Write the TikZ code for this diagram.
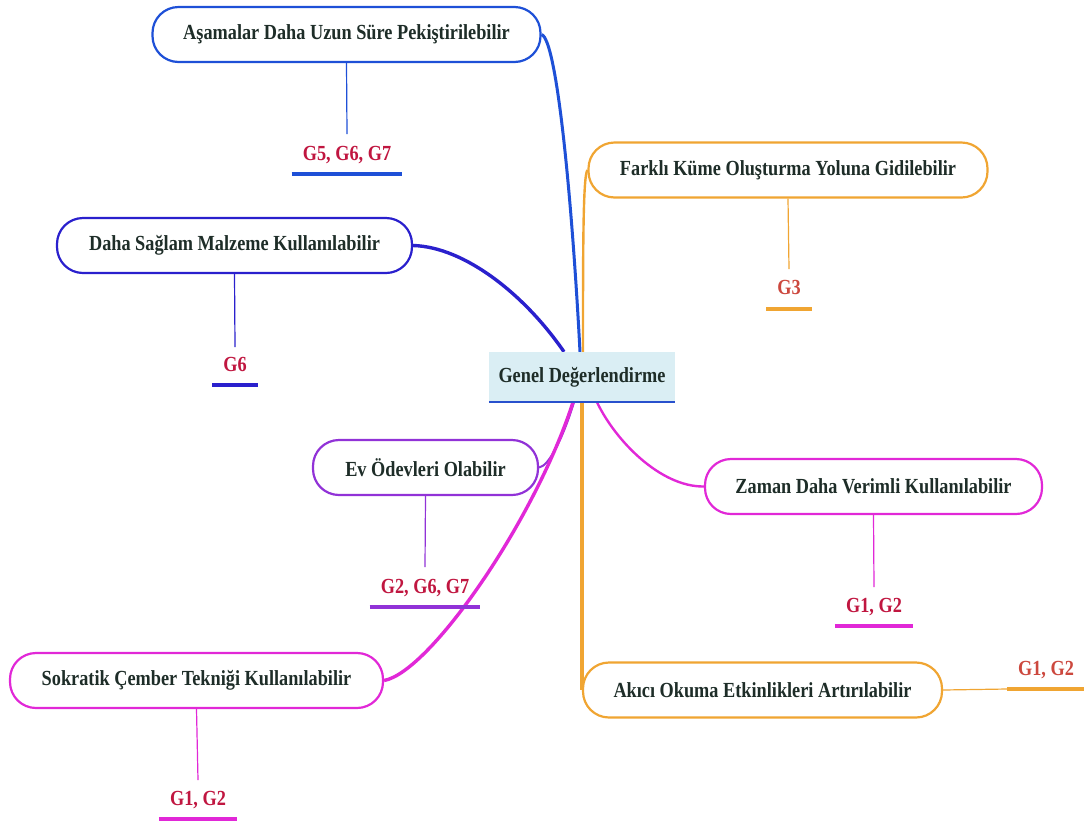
\documentclass[tikz,border=0pt]{standalone}
\usepackage{fontspec}
\setmainfont{Liberation Serif}[FakeStretch=0.85]
\usetikzlibrary{backgrounds}

\definecolor{clblue}{RGB}{30,80,215}
\definecolor{clindigo}{RGB}{42,32,205}
\definecolor{clorange}{RGB}{240,165,50}
\definecolor{clpurple}{RGB}{145,50,215}
\definecolor{clmagenta}{RGB}{225,40,215}
\definecolor{textdark}{RGB}{30,45,40}
\definecolor{tagred}{RGB}{192,22,64}
\definecolor{tagorange}{RGB}{204,72,62}
\definecolor{gdfill}{RGB}{218,238,244}
\definecolor{gdline}{RGB}{40,80,205}

\tikzset{
  mapfont/.style={font=\fontsize{21.5}{24}\selectfont\bfseries},
  idea/.style={draw=#1, line width=2.2pt, fill=white, rounded corners=26pt,
    minimum height=55pt, inner xsep=0pt, text=textdark, mapfont},
  centre/.style={fill=gdfill, minimum width=186pt, minimum height=50pt,
    text=textdark, mapfont},
  tag/.style={anchor=base, inner xsep=11pt, inner ysep=0pt, text=tagred, mapfont},
  stem/.style={draw=#1, line width=1.2pt},
  uline/.style={draw=#1, line width=3.2pt},
  branch/.style={draw=#1, line width=3pt}
}

\begin{document}
\begin{tikzpicture}[x=1pt,y=-1pt]
  \useasboundingbox (0,0) rectangle (1084,823);

  % centre
  \node[centre] (gd) at (582,377) {Genel Değerlendirme};
  \draw[gdline, line width=2.5pt] (gd.south west) -- (gd.south east);

  % ideas
  \node[idea=clblue, minimum width=388pt] (asama) at (346.5,34.5) {Aşamalar Daha Uzun Süre Pekiştirilebilir};
  \node[idea=clorange, minimum width=399pt] (farkli) at (788,170) {Farklı Küme Oluşturma Yoluna Gidilebilir};
  \node[idea=clindigo, minimum width=355pt] (saglam) at (234.5,245.5) {Daha Sağlam Malzeme Kullanılabilir};
  \node[idea=clpurple, minimum width=225pt] (odev) at (425.5,467.5) {Ev Ödevleri Olabilir};
  \node[idea=clmagenta, minimum width=337pt] (zaman) at (873.5,486.5) {Zaman Daha Verimli Kullanılabilir};
  \node[idea=clmagenta, minimum width=373pt] (sokrat) at (196.5,680.5) {Sokratik Çember Tekniği Kullanılabilir};
  \node[idea=clorange, minimum width=359pt] (akici) at (762.5,690) {Akıcı Okuma Etkinlikleri Artırılabilir};

  % tags
  \node[tag] (tasama) at (347,160) {G5, G6, G7};
  \node[tag, text=tagorange] (tfarkli) at (789,294) {G3};
  \node[tag] (tsaglam) at (235,371) {G6};
  \node[tag] (todev) at (425,593) {G2, G6, G7};
  \node[tag] (tzaman) at (874,612) {G1, G2};
  \node[tag] (tsokrat) at (198,805) {G1, G2};
  \node[tag, text=tagorange] (takici) at (1046,675) {G1, G2};

  % stems and underlines
  \draw[stem=clblue] (asama.south) -- ([yshift=26pt]tasama.base);
  \draw[uline=clblue] ([yshift=-14pt]tasama.base west) -- ([yshift=-14pt]tasama.base east);
  \draw[stem=clorange] (farkli.south) -- ([yshift=25pt]tfarkli.base);
  \draw[uline=clorange] ([yshift=-15pt]tfarkli.base west) -- ([yshift=-15pt]tfarkli.base east);
  \draw[stem=clindigo] (saglam.south) -- ([yshift=24pt]tsaglam.base);
  \draw[uline=clindigo] ([yshift=-14pt]tsaglam.base west) -- ([yshift=-14pt]tsaglam.base east);
  \draw[stem=clpurple] (odev.south) -- ([yshift=26pt]todev.base);
  \draw[uline=clpurple] ([yshift=-14pt]todev.base west) -- ([yshift=-14pt]todev.base east);
  \draw[stem=clmagenta] (zaman.south) -- ([yshift=25pt]tzaman.base);
  \draw[uline=clmagenta] ([yshift=-14pt]tzaman.base west) -- ([yshift=-14pt]tzaman.base east);
  \draw[stem=clmagenta] (sokrat.south) -- ([yshift=25pt]tsokrat.base);
  \draw[uline=clmagenta] ([yshift=-14pt]tsokrat.base west) -- ([yshift=-14pt]tsokrat.base east);
  \draw[stem=clorange] (akici.east) -- ([yshift=-14pt]takici.base west);
  \draw[uline=clorange] ([yshift=-14pt]takici.base west) -- ([yshift=-14pt]takici.base east);

  % branches from the centre
  \begin{scope}[on background layer]
    \draw[branch=clblue] (asama.east) .. controls (557,40) and (572,200) .. ([xshift=-2pt]gd.north);
    \draw[branch=clorange, line width=2.4pt] (farkli.west) .. controls (583,176) and (583,250) .. ([xshift=1pt]gd.north);
    \draw[branch=clindigo, line width=3.4pt] (saglam.east) .. controls (465,247) and (525,295) .. ([xshift=-18pt]gd.north);
    \draw[branch=clpurple, line width=2pt] (odev.east) .. controls (549,466) and (563,438) .. ([xshift=-8pt]gd.south);
    \draw[branch=clmagenta, line width=3.4pt] (sokrat.east) .. controls (430,672) and (535,520) .. ([xshift=-9pt]gd.south);
    \draw[branch=clmagenta, line width=2.4pt] ([xshift=15pt]gd.south) .. controls (615,440) and (660,487) .. (zaman.west);
    \draw[branch=clorange, line width=4pt] (gd.south) -- (gd.south |- akici.west);
  \end{scope}
\end{tikzpicture}
\end{document}
